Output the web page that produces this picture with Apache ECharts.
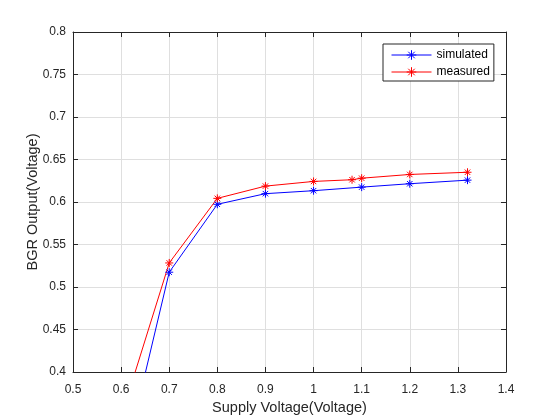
<!DOCTYPE html>
<html>
<head>
<meta charset="utf-8">
<script src="https://cdn.jsdelivr.net/npm/echarts@6/dist/echarts.min.js"></script>
<style>
  html, body { margin: 0; padding: 0; background: #fff; }
  #chart { width: 560px; height: 420px; }
</style>
</head>
<body>
<div id="chart"></div>
<script>
// supply voltage points (x) and BGR output for each curve
const simX = [0.6, 0.7, 0.8, 0.9, 1.0, 1.1, 1.2, 1.32];
const simY = [0.279, 0.5174, 0.5973, 0.6098, 0.6133, 0.6175, 0.6215, 0.6257];
const measX = [0.6, 0.7, 0.8, 0.9, 1.0, 1.08, 1.1, 1.2, 1.32];
const measY = [0.347, 0.5283, 0.6043, 0.6187, 0.6242, 0.6262, 0.628, 0.6324, 0.635];

const seriesNames = ['simulated', 'measured'];
const xName = 'Supply Voltage(Voltage)';
const yName = 'BGR Output(Voltage)';

const FONT = '"Liberation Sans", Arial, sans-serif';
const AX = '#262626';
// matlab style '*' marker
const STAR = 'path://M5,0L5,10M0,5L10,5M1.6,1.6L8.4,8.4M1.6,8.4L8.4,1.6';

const pairs = (xs, ys) => xs.map((x, i) => [x, ys[i]]);

const chart = echarts.init(document.getElementById('chart'), null, {renderer: 'canvas'});

const baseX = {
  type: 'value', min: 0.5, max: 1.4, interval: 0.1,
  axisLine: {show: true, onZero: false, lineStyle: {color: AX, width: 1}},
  axisTick: {show: true, inside: true, length: 5, lineStyle: {color: AX}},
};
const baseY = {
  type: 'value', min: 0.4, max: 0.8, interval: 0.05,
  axisLine: {show: true, onZero: false, lineStyle: {color: AX, width: 1}},
  axisTick: {show: true, inside: true, length: 5, lineStyle: {color: AX}},
};

const mkSeries = (name, xs, ys, color) => ({
  name: name,
  type: 'line',
  data: pairs(xs, ys),
  symbol: STAR,
  symbolSize: 8,
  showAllSymbol: true,
  clip: true,
  lineStyle: {color: color, width: 1},
  itemStyle: {color: color, borderColor: color, borderWidth: 1},
  animation: false
});

chart.setOption({
  backgroundColor: '#fff',
  animation: false,
  textStyle: {fontFamily: FONT},
  grid: {left: 73, right: 54, top: 32, bottom: 46},
  legend: {
    orient: 'vertical',
    left: 383, top: 44,
    padding: [5, 4, 3, 8],
    itemGap: 5,
    itemWidth: 40,
    itemHeight: 12,
    borderColor: AX,
    borderWidth: 1,
    backgroundColor: '#fff',
    lineStyle: {width: 1},
    itemStyle: {borderWidth: 1},
    textStyle: {fontFamily: FONT, fontSize: 12, color: '#000'},
    data: seriesNames
  },
  xAxis: [
    Object.assign({}, baseX, {
      position: 'bottom',
      name: xName,
      nameLocation: 'middle',
      nameGap: 28,
      nameMoveOverlap: false,
      nameTextStyle: {fontFamily: FONT, fontSize: 14.5, color: AX},
      axisLabel: {fontFamily: FONT, fontSize: 12, color: AX, margin: 12},
      splitLine: {show: true, lineStyle: {color: '#dfdfdf', width: 1}}
    }),
    Object.assign({}, baseX, {
      position: 'top',
      axisLabel: {show: false},
      splitLine: {show: false}
    })
  ],
  yAxis: [
    Object.assign({}, baseY, {
      position: 'left',
      name: yName,
      nameLocation: 'middle',
      nameGap: 33,
      nameMoveOverlap: false,
      nameTextStyle: {fontFamily: FONT, fontSize: 14.5, color: AX},
      axisLabel: {fontFamily: FONT, fontSize: 12, color: AX, margin: 7},
      splitLine: {show: true, lineStyle: {color: '#dfdfdf', width: 1}}
    }),
    Object.assign({}, baseY, {
      position: 'right',
      axisLabel: {show: false},
      splitLine: {show: false}
    })
  ],
  series: [
    mkSeries(seriesNames[0], simX, simY, '#0000ff'),
    mkSeries(seriesNames[1], measX, measY, '#ff0000')
  ]
});
</script>
</body>
</html>
